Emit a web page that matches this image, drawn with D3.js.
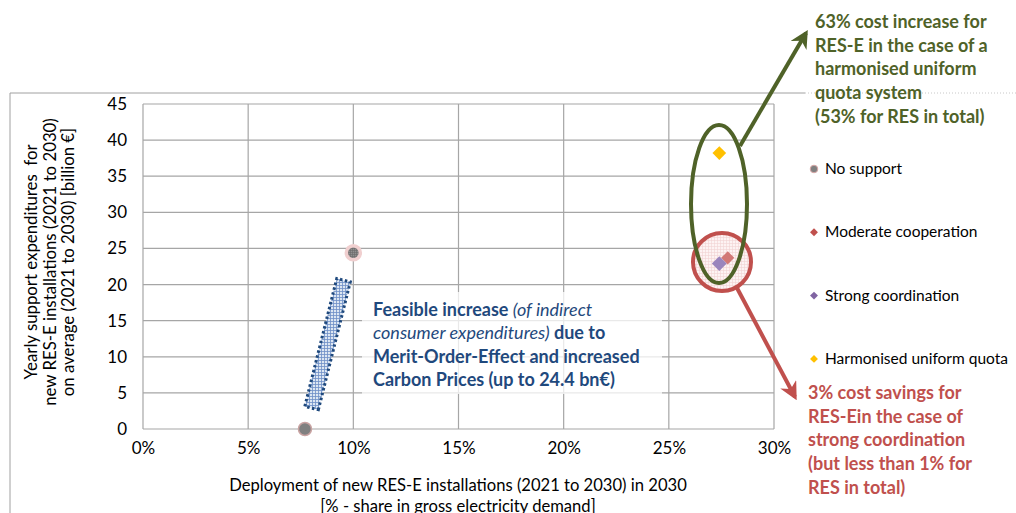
<!DOCTYPE html>
<html>
<head>
<meta charset="utf-8">
<script src="https://cdn.jsdelivr.net/npm/d3@7"></script>
<style>
  body { margin: 0; background: #fff; }
  svg { font-family: Lato, "Open Sans", sans-serif; }
</style>
</head>
<body>
<div id="container"><svg></svg></div>
<script>
let width = 1016;
let height = 513;

// data
let xTicks = [0, 5, 10, 15, 20, 25, 30];
let yTicks = [0, 5, 10, 15, 20, 25, 30, 35, 40, 45];
let noSupport = [[7.7, 0], [10, 24.4]];
let moderate = [[27.8, 23.7]];
let strong = [[27.4, 22.9]];
let harmonised = [[27.4, 38.2]];
let feasibleBand = [[8.05, 3.3], [9.5, 20.2]];
let legendNames = ["No support", "Moderate cooperation", "Strong coordination", "Harmonised uniform quota"];
let legendColors = ["#808080", "#C0504D", "#8064A2", "#FFC000"];

let noteLines = [
    [["Feasible increase ", "b"], ["(of indirect", "i"]],
    [["consumer expenditures)", "i"], [" due to", "b"]],
    [["Merit-Order-Effect and increased", "b"]],
    [["Carbon Prices (up to 24.4 bn\u20ac)", "b"]]
];
let greenLines = ["63% cost increase for", "RES-E in the case of a", "harmonised uniform", "quota system", "(53% for RES in total)"];
let redLines = ["3% cost savings for", "RES-Ein the case of", "strong coordination", "(but less than 1% for", "RES in total)"];

let svg = d3.select('#container').select('svg')
    .attr('width', width)
    .attr('height', height);

let x = d3.scaleLinear().domain([0, 30]).range([143, 774]);
let y = d3.scaleLinear().domain([0, 45]).range([429, 104]);

// outer chart frame
svg.append("path")
    .attr("d", "M10,513 L10,93 L805,93")
    .attr("fill", "none").attr("stroke", "#A0A0A0").attr("stroke-width", 1);
svg.append("line")
    .attr("x1", 805).attr("x2", 1016).attr("y1", 93).attr("y2", 93)
    .attr("stroke", "#C8C8C8").attr("stroke-dasharray", "1,2");

// patterns
let defs = svg.append("defs");
let p1 = defs.append("pattern").attr("id", "grid-blue")
    .attr("width", 3).attr("height", 3).attr("patternUnits", "userSpaceOnUse");
p1.append("rect").attr("width", 3).attr("height", 3).attr("fill", "#DCE6F2");
p1.append("path").attr("d", "M0,0.5H3M0.5,0V3").attr("stroke", "#6F8FC8").attr("stroke-width", 0.8);
let p2 = defs.append("pattern").attr("id", "grid-gray")
    .attr("width", 2).attr("height", 2).attr("patternUnits", "userSpaceOnUse");
p2.append("rect").attr("width", 2).attr("height", 2).attr("fill", "#909090");
p2.append("path").attr("d", "M0,0.5H2M0.5,0V2").attr("stroke", "#6A6A6A").attr("stroke-width", 0.6);
let p3 = defs.append("pattern").attr("id", "grid-pink")
    .attr("width", 3).attr("height", 3).attr("patternUnits", "userSpaceOnUse");
p3.append("rect").attr("width", 3).attr("height", 3).attr("fill", "#FDF3F3");
p3.append("path").attr("d", "M0,0.5H3M0.5,0V3").attr("stroke", "#F2D4D4").attr("stroke-width", 0.6);

// gridlines
let grid = svg.append("g").attr("stroke", "#A6A6A6").attr("stroke-width", 1.2);
grid.selectAll("line.h").data(yTicks).join("line").attr("class", "h")
    .attr("x1", x(0)).attr("x2", x(30))
    .attr("y1", d => y(d)).attr("y2", d => y(d));
grid.selectAll("line.v").data(xTicks).join("line").attr("class", "v")
    .attr("y1", y(0)).attr("y2", y(45))
    .attr("x1", d => x(d)).attr("x2", d => x(d));

// axes labels
let xAxis = d3.axisBottom(x).tickValues(xTicks).tickFormat(d => d + "%").tickSize(0).tickPadding(13);
let gx = svg.append("g").attr("transform", `translate(0,${y(0)})`).call(xAxis);
gx.select(".domain").remove();
gx.selectAll("text").attr("font-size", 17).attr("fill", "#000").attr("font-family", "Lato, sans-serif");

let yAxis = d3.axisLeft(y).tickValues(yTicks).tickSize(0).tickPadding(16);
let gy = svg.append("g").attr("transform", `translate(${x(0)},0)`).call(yAxis);
gy.select(".domain").remove();
gy.selectAll("text").attr("font-size", 17).attr("fill", "#000").attr("font-family", "Lato, sans-serif");

// axis titles
svg.append("text").attr("x", 458).attr("y", 491).attr("text-anchor", "middle")
    .attr("font-size", 16.6).text("Deployment of new RES-E installations (2021 to 2030) in 2030");
svg.append("text").attr("x", 458).attr("y", 512).attr("text-anchor", "middle")
    .attr("font-size", 16.6).text("[% - share in gross electricity demand]");
let yTitle = ["Yearly support expenditures  for", "new RES-E installations (2021 to 2030)", "on average (2021 to 2030) [billion \u20ac]"];
svg.append("g").attr("transform", "translate(0,262) rotate(-90)")
    .selectAll("text").data(yTitle).join("text")
    .attr("x", 0).attr("y", (d, i) => 37 + i * 18.5)
    .attr("text-anchor", "middle").attr("font-size", 16.8)
    .attr("xml:space", "preserve").text(d => d);

// feasible band
let b0 = [x(feasibleBand[0][0]), y(feasibleBand[0][1])];
let b1 = [x(feasibleBand[1][0]), y(feasibleBand[1][1])];
let dx = b1[0] - b0[0], dy = b1[1] - b0[1];
let len = Math.sqrt(dx * dx + dy * dy);
let nx = -dy / len * 7, ny = dx / len * 7;
let ex = dx / len * 3, ey = dy / len * 3;
let band = [
    [b0[0] + nx - ex, b0[1] + ny - ey], [b1[0] + nx + ex, b1[1] + ny + ey],
    [b1[0] - nx + ex, b1[1] - ny + ey], [b0[0] - nx - ex, b0[1] - ny - ey]
];
svg.append("path").attr("d", d3.line()(band) + "Z")
    .attr("fill", "url(#grid-blue)").attr("stroke", "#1F497D")
    .attr("stroke-width", 3).attr("stroke-dasharray", "2.5,2.5");

// note box
svg.append("rect").attr("x", 362).attr("y", 292).attr("width", 300).attr("height", 102)
    .attr("fill", "#fff").attr("opacity", 0.75);
let note = svg.append("g").attr("fill", "#1F497D").attr("font-size", 18);
noteLines.forEach((line, i) => {
    let t = note.append("text").attr("x", 373).attr("y", 316 + i * 23.3).attr("xml:space", "preserve");
    line.forEach(seg => {
        t.append("tspan").text(seg[0])
            .attr("font-weight", seg[1] == "b" ? "bold" : "normal")
            .attr("font-style", seg[1] == "i" ? "italic" : "normal");
    });
});

// red circle
svg.append("circle").attr("cx", 722).attr("cy", 262).attr("r", 29)
    .attr("fill", "url(#grid-pink)").attr("stroke", "#C0504D").attr("stroke-width", 4);

// points
svg.append("g").selectAll("circle").data(noSupport).join("circle")
    .attr("cx", d => x(d[0])).attr("cy", d => y(d[1])).attr("r", (d, i) => i == 0 ? 6.5 : 7)
    .attr("fill", (d, i) => i == 0 ? "#808080" : "url(#grid-gray)")
    .attr("stroke", (d, i) => i == 0 ? "#C9A3A2" : "#F0CFCF")
    .attr("stroke-width", (d, i) => i == 0 ? 1.5 : 3.5);

let diamond = d3.symbol().type(d3.symbolDiamond2);
function drawDiamonds(data, color, size) {
    svg.append("g").selectAll("path").data(data).join("path")
        .attr("d", diamond.size(size)())
        .attr("transform", d => `translate(${x(d[0])},${y(d[1])})`)
        .attr("fill", color);
}
drawDiamonds(moderate, "#D27876", 110);
drawDiamonds(strong, "#9A85BD", 140);
drawDiamonds(harmonised, "#FFC000", 120);

// green ellipse
svg.append("ellipse").attr("cx", 719).attr("cy", 204).attr("rx", 28).attr("ry", 79)
    .attr("fill", "none").attr("stroke", "#4F6228").attr("stroke-width", 4);

// arrows
defs.append("marker").attr("id", "arrow-green").attr("viewBox", "0 0 10 10")
    .attr("refX", 8).attr("refY", 5).attr("markerWidth", 4.5).attr("markerHeight", 4.5)
    .attr("orient", "auto").append("path").attr("d", "M0,0 L10,5 L0,10 L3,5 Z").attr("fill", "#4F6228");
defs.append("marker").attr("id", "arrow-red").attr("viewBox", "0 0 10 10")
    .attr("refX", 8).attr("refY", 5).attr("markerWidth", 4.5).attr("markerHeight", 4.5)
    .attr("orient", "auto").append("path").attr("d", "M0,0 L10,5 L0,10 L3,5 Z").attr("fill", "#C0504D");
svg.append("line").attr("x1", 740).attr("y1", 146).attr("x2", 806).attr("y2", 33)
    .attr("stroke", "#4F6228").attr("stroke-width", 4).attr("marker-end", "url(#arrow-green)");
svg.append("line").attr("x1", 737).attr("y1", 288).attr("x2", 795).attr("y2", 397)
    .attr("stroke", "#C0504D").attr("stroke-width", 4).attr("marker-end", "url(#arrow-red)");

// callout texts
svg.append("g").attr("fill", "#4F6228").attr("font-weight", "bold").attr("font-size", 18)
    .selectAll("text").data(greenLines).join("text")
    .attr("x", 815).attr("y", (d, i) => 28 + i * 23.7).text(d => d);
svg.append("g").attr("fill", "#C0504D").attr("font-weight", "bold").attr("font-size", 18)
    .selectAll("text").data(redLines).join("text")
    .attr("x", 808).attr("y", (d, i) => 399 + i * 23.7).text(d => d);

// legend
let legend = svg.append("g").selectAll("g").data(legendNames).join("g")
    .attr("transform", (d, i) => `translate(814,${169 + i * 63.3})`);
legend.append("path")
    .attr("d", (d, i) => i == 0 ? d3.symbol().type(d3.symbolCircle).size(45)() : d3.symbol().type(d3.symbolDiamond2).size(40)())
    .attr("fill", (d, i) => legendColors[i])
    .attr("stroke", (d, i) => i == 0 ? "#D9A8A7" : "none");
legend.append("text").attr("x", 11).attr("y", 5).attr("font-size", 15.5).text(d => d);
</script>
</body>
</html>
